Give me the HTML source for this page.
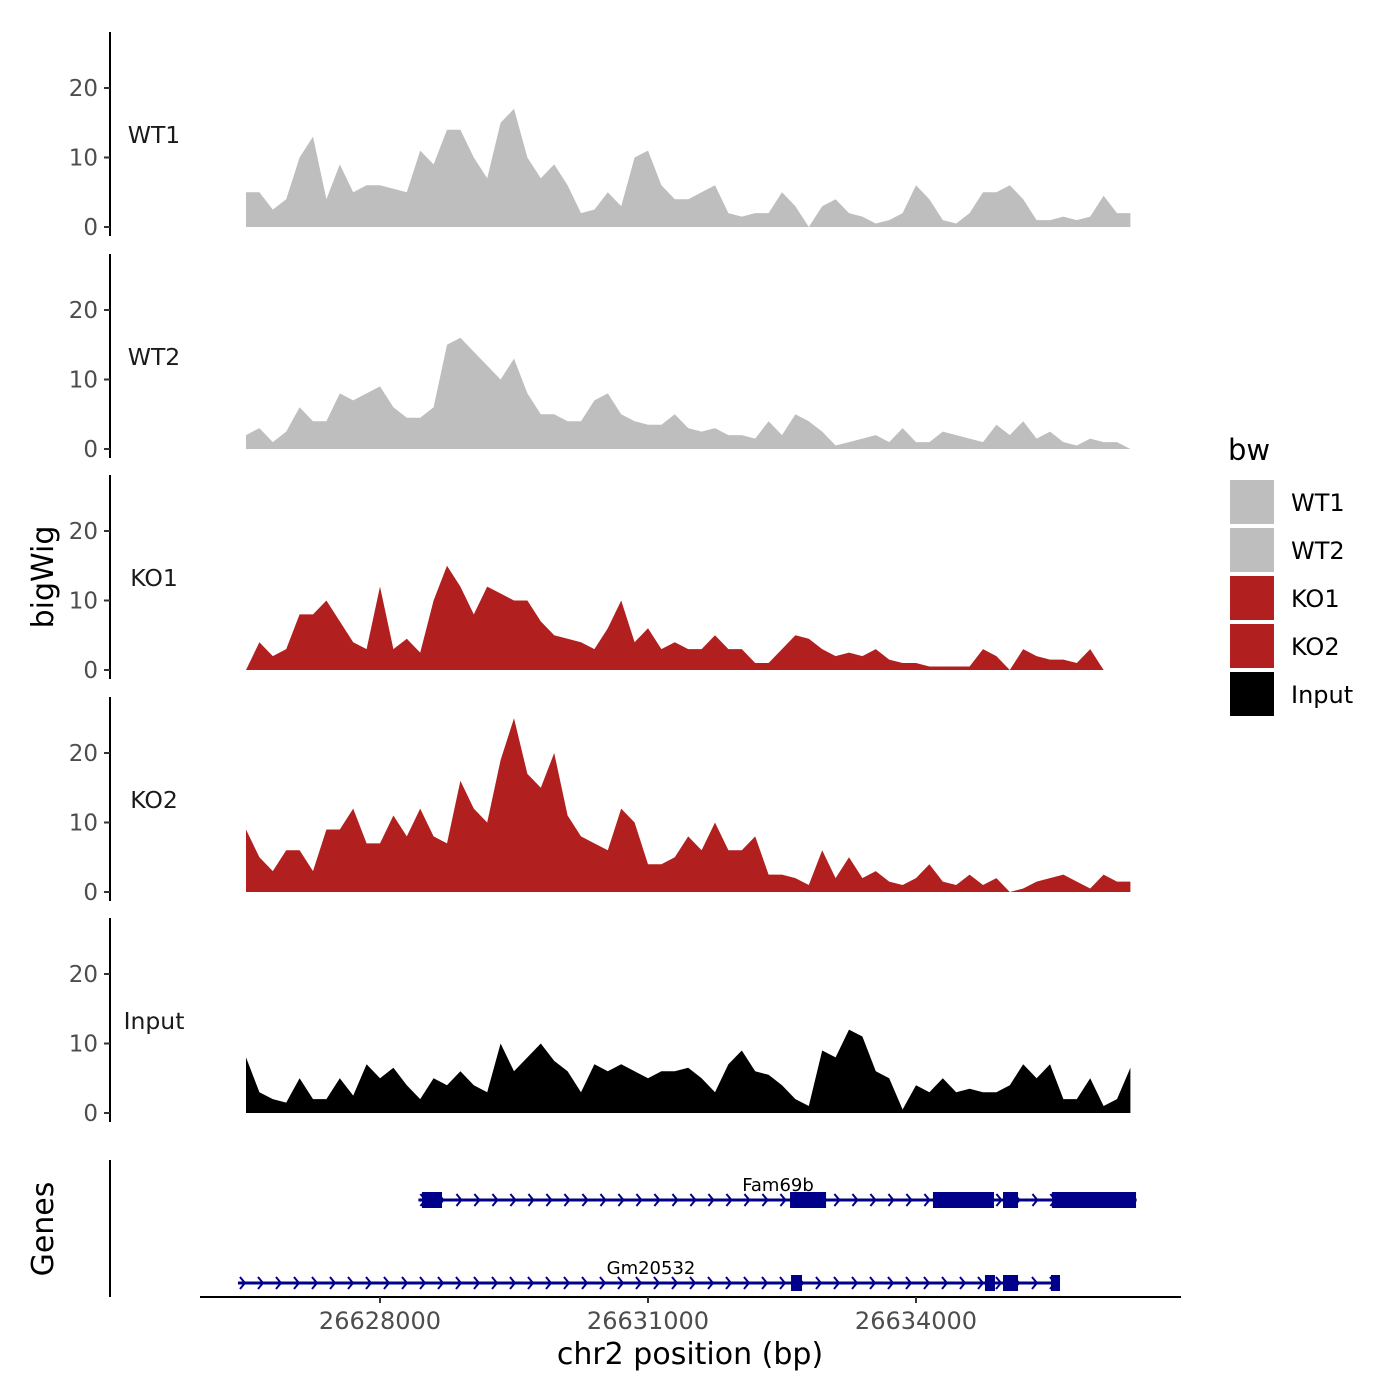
<!DOCTYPE html>
<html><head><meta charset="utf-8"><style>
body{margin:0;background:#fff}
svg{display:block;font-family:"DejaVu Sans","Liberation Sans",sans-serif}
</style></head><body>
<svg id="c" width="1400" height="1400" viewBox="0 0 1400 1400"></svg>
<script>
const tracks = ["WT1","WT2","KO1","KO2","Input"];
const trackColors = ["#bebebe","#bebebe","#b21f1f","#b21f1f","#000000"];
const startBp = 26626500;
const binBp = 150;
const wt1 = [5,5,2.5,4,10,13,4,9,5,6,6,5.5,5,11,9,14,14,10,7,15,17,10,7,9,6,2,2.5,5,3,10,11,6,4,4,5,6,2,1.5,2,2,5,3,0,3,4,2,1.5,0.5,1,2,6,4,1,0.5,2,5,5,6,4,1,1,1.5,1,1.5,4.5,2,2];
const wt2 = [2,3,1,2.5,6,4,4,8,7,8,9,6,4.5,4.5,6,15,16,14,12,10,13,8,5,5,4,4,7,8,5,4,3.5,3.5,5,3,2.5,3,2,2,1.5,4,2,5,4,2.5,0.5,1,1.5,2,1,3,1,1,2.5,2,1.5,1,3.5,2,4,1.5,2.5,1,0.5,1.5,1,1,0];
const ko1 = [0,4,2,3,8,8,10,7,4,3,12,3,4.5,2.5,10,15,12,8,12,11,10,10,7,5,4.5,4,3,6,10,4,6,3,4,3,3,5,3,3,1,1,3,5,4.5,3,2,2.5,2,3,1.5,1,1,0.5,0.5,0.5,0.5,3,2,0,3,2,1.5,1.5,1,3,0,0,0];
const ko2 = [9,5,3,6,6,3,9,9,12,7,7,11,8,12,8,7,16,12,10,19,25,17,15,20,11,8,7,6,12,10,4,4,5,8,6,10,6,6,8,2.5,2.5,2,1,6,2,5,2,3,1.5,1,2,4,1.5,1,2.5,1,2,0,0.5,1.5,2,2.5,1.5,0.5,2.5,1.5,1.5];
const input = [8,3,2,1.5,5,2,2,5,2.5,7,5,6.5,4,2,5,4,6,4,3,10,6,8,10,7.5,6,3,7,6,7,6,5,6,6,6.5,5,3,7,9,6,5.5,4,2,1,9,8,12,11,6,5,0.5,4,3,5,3,3.5,3,3,4,7,5,7,2,2,5,1,2,6.5];
const yTicks = [0,10,20];
const xTicks = [26628000,26631000,26634000];
const xTickLabels = ["26628000","26631000","26634000"];
const geneNames = ["Fam69b","Gm20532"];
const geneStarts = [26628430,26626410];
const geneEnds = [26636470,26635612];
const fam69bExonStarts = [26628470,26632590,26634190,26634974,26635522];
const fam69bExonEnds = [26628694,26632993,26634873,26635142,26636463];
const gm20532ExonStarts = [26632601,26634772,26634974,26635511];
const gm20532ExonEnds = [26632724,26634884,26635142,26635612];
const series = [wt1,wt2,ko1,ko2,input];

const svg = document.getElementById('c');
const NS = 'http://www.w3.org/2000/svg';
function mk(tag, attrs, parent){const e=document.createElementNS(NS,tag);for(const k in attrs)e.setAttribute(k,attrs[k]);(parent||svg).appendChild(e);return e;}
const xScale = bp => 380 + (bp-26628000)*268/3000;
const zeros = [227,449,670,892,1113];
const yScale = (v,i) => zeros[i] - v*6.95;

series.forEach((vals,i)=>{
  const g = mk('g',{});
  
  
  let d = 'M'+xScale(startBp)+','+zeros[i];
  vals.forEach((v,j)=>{ d += ' L'+xScale(startBp+j*binBp).toFixed(1)+','+yScale(v,i).toFixed(1); });
  d += ' L'+xScale(startBp+(vals.length-1)*binBp).toFixed(1)+','+zeros[i]+' Z';
  const p = mk('path',{d:d,fill:trackColors[i]},g);
  
  
  const ax = mk('line',{x1:110,x2:110,y1:zeros[i]-195,y2:zeros[i]+9,stroke:'#000','stroke-width':2},g);
  
  
  yTicks.forEach(t=>{
    const y = yScale(t,i);
    mk('line',{x1:104,x2:110,y1:y,y2:y,stroke:'#333','stroke-width':2},g);
    const tx = mk('text',{x:98,y:y+8,'text-anchor':'end','font-size':23,fill:'#4d4d4d'},g);
    tx.textContent = t;
    
    
  });
  const lb = mk('text',{x:154,y:zeros[i]-84,'text-anchor':'middle','font-size':23.5,fill:'#1a1a1a'},g);
  lb.textContent = tracks[i];
  
  
});

const gg = mk('g',{});


const gax = mk('line',{x1:110,x2:110,y1:1160,y2:1297,stroke:'#000','stroke-width':2},gg);


const geneY = [1200,1283];
const exS = [fam69bExonStarts, gm20532ExonStarts], exE = [fam69bExonEnds, gm20532ExonEnds];
geneNames.forEach((n,i)=>{
  const y = geneY[i], x1 = xScale(geneStarts[i]), x2 = xScale(geneEnds[i]);
  const l = mk('line',{x1:x1,x2:x2,y1:y,y2:y,stroke:'#00008b','stroke-width':3},gg);
  
  
  for(let x=x1+2;x<x2-4;x+=18){ mk('path',{d:`M${x},${y-6} L${x+5},${y} L${x},${y+6}`,fill:'none',stroke:'#00008b','stroke-width':2},gg); }
  exS[i].forEach((s,k)=>{
    const r = mk('rect',{x:xScale(s),y:y-8,width:xScale(exE[i][k])-xScale(s),height:16,fill:'#00008b'},gg);
    
    
  });
});
const t1 = mk('text',{x:778,y:1191,'text-anchor':'middle','font-size':18,fill:'#000'},gg); t1.textContent='Fam69b';
 
const t2 = mk('text',{x:651,y:1274,'text-anchor':'middle','font-size':18,fill:'#000'},gg); t2.textContent='Gm20532';
 

const xa = mk('line',{x1:200,x2:1181,y1:1297,y2:1297,stroke:'#000','stroke-width':2});


xTicks.forEach((t,i)=>{
  const x = xScale(t);
  mk('line',{x1:x,x2:x,y1:1297,y2:1303,stroke:'#333','stroke-width':2});
  const tx = mk('text',{x:x,y:1329,'text-anchor':'middle','font-size':24,fill:'#4d4d4d'});
  tx.textContent = xTickLabels[i];
  
  
});
const xt = mk('text',{x:690,y:1364,'text-anchor':'middle','font-size':30,fill:'#000'});
xt.textContent='chr2 position (bp)';
 
const yt = mk('text',{x:0,y:0,'text-anchor':'middle','font-size':30,fill:'#000',transform:'translate(53,577) rotate(-90)'});
yt.textContent='bigWig';
 
const gt = mk('text',{x:0,y:0,'text-anchor':'middle','font-size':30,fill:'#000',transform:'translate(53,1229) rotate(-90)'});
gt.textContent='Genes';
 

const lg = mk('g',{});


const lt = mk('text',{x:1228,y:460,'font-size':29,fill:'#000'},lg); lt.textContent='bw';
 
tracks.forEach((n,i)=>{
  const y = 480 + i*48;
  const r = mk('rect',{x:1230,y:y,width:44,height:44,fill:trackColors[i]},lg);
  
  
  const t = mk('text',{x:1291,y:y+31,'font-size':24,fill:'#000'},lg); t.textContent=n;
  
  
});
</script>
</body></html>
